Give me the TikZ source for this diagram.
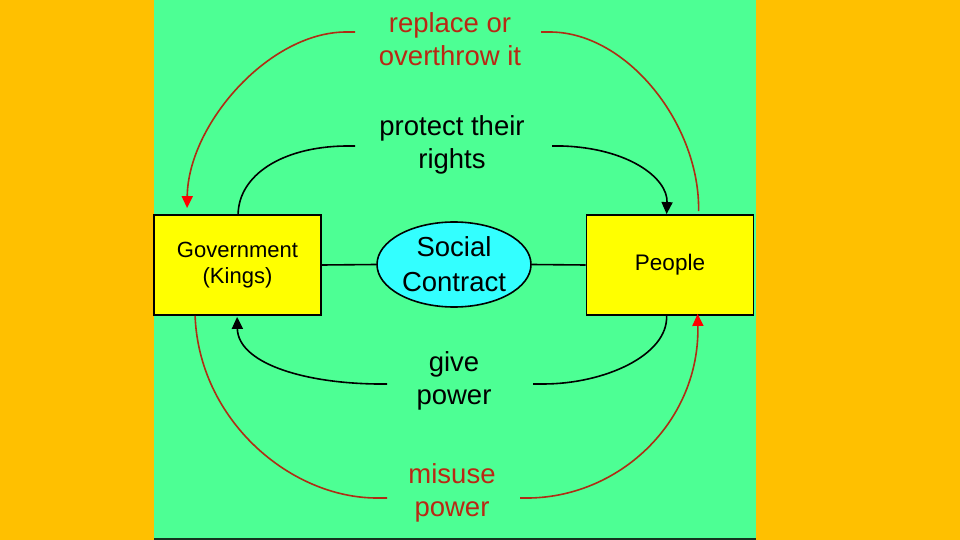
\documentclass[tikz,border=0pt]{standalone}
\usepackage{fontspec}
\setmainfont{Liberation Sans}
\usetikzlibrary{arrows.meta,shapes.geometric,calc}
\definecolor{bgorange}{RGB}{255,192,0}
\definecolor{bggreen}{RGB}{77,255,148}
\definecolor{boxyellow}{RGB}{255,255,0}
\definecolor{ellcyan}{RGB}{51,255,255}
\definecolor{redline}{RGB}{175,45,20}
\definecolor{redtext}{RGB}{185,40,20}
\definecolor{arrowred}{RGB}{255,0,0}
\definecolor{bottomline}{RGB}{20,50,30}
\begin{document}
\begin{tikzpicture}[x=1pt,y=-1pt,
  box/.style={draw=black, line width=1.8pt, fill=boxyellow, minimum width=167pt, minimum height=100pt, inner sep=0pt, align=center},
  ell/.style={ellipse, draw=black, line width=1.6pt, fill=ellcyan, minimum width=154pt, minimum height=85pt, inner sep=0pt, align=center, font=\fontsize{27.5}{35}\selectfont},
  lbl/.style={align=center, inner sep=0pt, font=\fontsize{27.5}{32.5}\selectfont},
  redlbl/.style={lbl, text=redtext},
  conn/.style={line width=1.6pt, draw=black},
  redconn/.style={line width=1.6pt, draw=redline},
  blacktip/.style={-{Triangle[length=12pt,width=11pt]}},
  redtip/.style={-{Triangle[length=12pt,width=11pt,color=arrowred]}},
]
\useasboundingbox (0,0) rectangle (960,540);
\fill[bgorange] (0,0) rectangle (960,540);
\fill[bggreen] (154,0) rectangle (756,540);
\fill[bottomline] (154,537.5) rectangle (756,540);

% nodes
\node[box, font=\fontsize{22}{26}\selectfont] (gov) at (237.5,265) {Government\\(Kings)};
\node[box, font=\fontsize{22.5}{26}\selectfont] (people) at (670,265) {People};
\node[ell] (sc) at (454,264.5) {Social\\Contract};

\node[redlbl] (replace) at (450,39) {replace or\\overthrow it};
\node[lbl] (protect) at (452,145) {protect their\\rights};
\node[lbl] (give) at (454,381) {give\\power};
\node[redlbl] (misuse) at (452,493) {misuse\\power};

% free ends beside the labels
\coordinate (rtl) at (355,32);
\coordinate (rtr) at (541,32);
\coordinate (ptl) at (355,146);
\coordinate (ptr) at (552,146);
\coordinate (gpl) at (387,384);
\coordinate (gpr) at (533,384);
\coordinate (mpl) at (387,498);
\coordinate (mpr) at (520,498);

% straight links to the social contract
\draw[conn] (gov.east) -- (sc.west);
\draw[conn] (sc.east) -- (people.west);

% replace or overthrow it
\draw[redconn, redtip] (rtl) -- ++(-10,0) .. controls (268,33) and (188,125) .. ($(gov.north west)+(34,-6)$);
\draw[redconn] (rtr) -- ++(10,0) .. controls (628,33) and (700,125) .. ($(people.north west)+(113,-3)$);

% protect their rights
\draw[conn] (ptl) -- ++(-10,0) .. controls (282,147) and (239,175) .. ($(gov.north west)+(85,0)$);
\draw[conn, blacktip] (ptr) -- ++(10,0) .. controls (628,148) and (668,178) .. ($(people.north west)+(81,0)$);

% give power
\draw[conn] ($(people.south west)+(81,0)$) .. controls (668,355) and (605,384) .. ($(gpr)+(10,0)$) -- (gpr);
\draw[conn, blacktip] (gpl) -- ++(-10,0) .. controls (300,383) and (238,362) .. ($(gov.south west)+(84,1)$);

% misuse power
\draw[redconn] ($(gov.south west)+(42,0)$) .. controls (199,420) and (290,498) .. ($(mpl)+(-10,0)$) -- (mpl);
\draw[redconn, redtip] (mpr) -- ++(10,0) .. controls (622,496) and (700,420) .. ($(people.south west)+(112,-2)$);
\end{tikzpicture}
\end{document}
